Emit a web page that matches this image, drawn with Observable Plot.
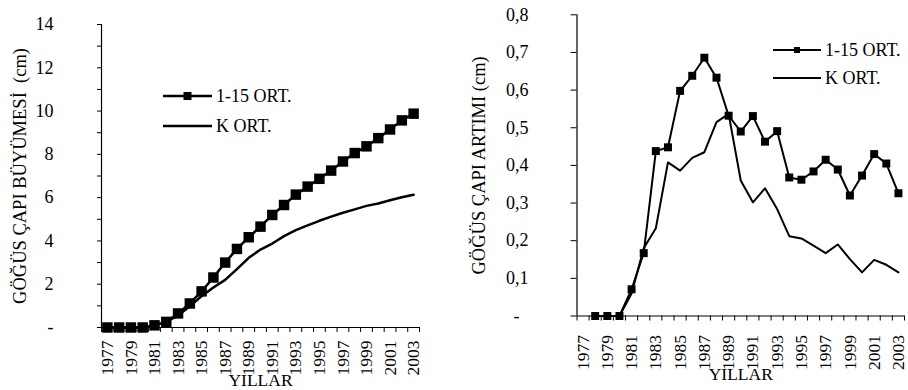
<!DOCTYPE html>
<html><head><meta charset="utf-8">
<script src="https://cdn.jsdelivr.net/npm/d3@7"></script>
<script src="https://cdn.jsdelivr.net/npm/@observablehq/plot@0.6"></script>
<style>
html,body{margin:0;padding:0;background:#fff;}
#wrap{position:relative;width:908px;height:390px;overflow:hidden;display:flex;}
#wrap svg{display:block;}
#wrap svg, #wrap svg text{font-family:"Liberation Serif","Times New Roman",serif !important;}
</style></head><body><div id="wrap"></div>
<script>
// ---- data ----
const years = [1977,1978,1979,1980,1981,1982,1983,1984,1985,1986,1987,1988,1989,1990,1991,1992,1993,1994,1995,1996,1997,1998,1999,2000,2001,2002,2003];
const yearTickLabels = [1977,1979,1981,1983,1985,1987,1989,1991,1993,1995,1997,1999,2001,2003];
const seriesNames = ["1-15 ORT.", "K ORT."];

// left panel: cumulative diameter growth (cm), 1977-2003
const growth1_15 = [0,0,0,0,0.1,0.26,0.65,1.11,1.67,2.31,3.0,3.63,4.17,4.66,5.2,5.66,6.14,6.51,6.87,7.25,7.67,8.06,8.37,8.75,9.15,9.57,9.88];
const growthK    = [0,0,0,0,0.08,0.27,0.55,0.98,1.45,1.85,2.2,2.7,3.22,3.6,3.88,4.22,4.5,4.72,4.93,5.12,5.3,5.46,5.62,5.73,5.88,6.02,6.13];
const leftYTicks = [0,2,4,6,8,10,12,14];
const leftYTickLabels = ["-","2","4","6","8","10","12","14"];
const leftYMinorTicks = [1,3,5,7,9,11,13];

// right panel: annual diameter increment (cm), 1978-2003
const incYears = [1978,1979,1980,1981,1982,1983,1984,1985,1986,1987,1988,1989,1990,1991,1992,1993,1994,1995,1996,1997,1998,1999,2000,2001,2002,2003];
const inc1_15 = [0,0,0,0.071,0.167,0.438,0.448,0.598,0.638,0.686,0.633,0.532,0.49,0.531,0.463,0.491,0.368,0.362,0.384,0.415,0.389,0.32,0.373,0.43,0.405,0.326];
const incK    = [0,0,0,0.06,0.18,0.233,0.408,0.386,0.42,0.435,0.515,0.537,0.36,0.302,0.339,0.284,0.212,0.206,0.187,0.167,0.19,0.151,0.116,0.149,0.136,0.116];
const rightYTicks = [0,0.1,0.2,0.3,0.4,0.5,0.6,0.7,0.8];
const rightYTickLabels = ["-\u2007","0,1","0,2","0,3","0,4","0,5","0,6","0,7","0,8"];

const xLabel = "YILLAR";
const leftTitle = "GÖĞÜS ÇAPI BÜYÜMESİ\u00a0 (cm)";
const rightTitle = "GÖĞÜS ÇAPI ARTIMI (cm)";

// ---- build ----
const font = "Liberation Serif";
const xDomain = [years[0] - 0.5, years[years.length - 1] + 0.5];
const boundaryTicks = years.map(y => y - 0.5).concat([years[years.length - 1] + 0.5]);

const left = years.map((y, i) => ({year: y, a: growth1_15[i], k: growthK[i]}));
const right = incYears.map((y, i) => ({year: y, a: inc1_15[i], k: incK[i]}));

function panel(o) {
  const fmt = d => o.tickLabels[o.ticks.indexOf(d)];
  const marks = [
    Plot.axisY({ticks: o.ticks, tickFormat: fmt, tickSize: o.yTickSize, tickPadding: o.yTickPadding, label: null, fontSize: 18, fontFamily: font}),
  ];
  if (o.minor) marks.push(Plot.axisY({ticks: o.minor, tickFormat: () => "", tickSize: o.yTickSize, label: null}));
  marks.push(
    Plot.axisX({ticks: boundaryTicks, tickFormat: () => "", tickSize: 5, label: null}),
    Plot.axisX({ticks: yearTickLabels, tickSize: 0, tickPadding: o.xTickPadding, tickRotate: -90, tickFormat: d => String(d), label: null, fontSize: 17.5, fontFamily: font}),
    Plot.ruleX([xDomain[0]], {strokeWidth: 1.2}),
    Plot.ruleY([0], {strokeWidth: 1.2}),
    Plot.line(o.data, {x: "year", y: "k", stroke: "black", strokeWidth: o.lw}),
    Plot.line(o.data, {x: "year", y: "a", stroke: "black", strokeWidth: o.lw}),
    Plot.dot(o.data, {x: "year", y: "a", symbol: "square", r: o.r, fill: "black", stroke: null}),
    Plot.text([o.title], {frameAnchor: "left", textAnchor: "middle", lineAnchor: "middle", dx: o.titleDx, rotate: -90, fontSize: 18.5, fontFamily: font}),
    Plot.text([xLabel], {frameAnchor: "bottom", textAnchor: "middle", lineAnchor: "top", dy: o.xLabelDy, fontSize: 17.5, fontFamily: font})
  );
  const svg = Plot.plot({
    width: o.width, height: 390,
    marginLeft: o.ml, marginRight: o.mr, marginTop: o.mt, marginBottom: o.mb,
    x: {domain: xDomain},
    y: {domain: o.yDomain},
    style: "font-family: 'Liberation Serif', serif; font-size: 18px; background: white; color: black; overflow: visible;",
    marks
  });
  // legend
  const g = d3.select(svg).append("g").attr("font-size", 18).attr("font-family", font).attr("text-anchor", "start");
  o.legend.forEach((L, i) => {
    g.append("line").attr("x1", L.x1).attr("x2", L.x2).attr("y1", L.y).attr("y2", L.y)
      .attr("stroke", "black").attr("stroke-width", o.lw);
    if (i === 0) {
      const c = (L.x1 + L.x2) / 2;
      g.append("rect").attr("x", c - o.legendMarker / 2).attr("y", L.y - o.legendMarker / 2)
        .attr("width", o.legendMarker).attr("height", o.legendMarker).attr("fill", "black");
    }
    g.append("text").attr("x", L.x2 + 4).attr("y", L.y).attr("dy", "0.35em")
      .style("text-anchor", "start").text(seriesNames[i]);
  });
  return svg;
}

const wrap = document.getElementById("wrap");
wrap.appendChild(panel({
  width: 454, ml: 101, mr: 35, mt: 24, mb: 63,
  data: left, yDomain: [0, 14], ticks: leftYTicks, tickLabels: leftYTickLabels, minor: leftYMinorTicks,
  yTickSize: 4, yTickPadding: 44, xTickPadding: 13, lw: 2.5, r: 5.9,
  title: leftTitle, titleDx: -81, xLabelDy: 46,
  legendMarker: 8,
  legend: [{x1: 163, x2: 212, y: 96}, {x1: 163, x2: 212, y: 126}]
}));
wrap.appendChild(panel({
  width: 454, ml: 122.5, mr: 4, mt: 14.3, mb: 74.5,
  data: right, yDomain: [0, 0.8], ticks: rightYTicks, tickLabels: rightYTickLabels, minor: null,
  yTickSize: 6, yTickPadding: 42.5, xTickPadding: 19, lw: 2, r: 4.5,
  title: rightTitle, titleDx: -97.5, xLabelDy: 51.5,
  legendMarker: 6,
  legend: [{x1: 773 - 454, x2: 821 - 454, y: 50}, {x1: 773 - 454, x2: 821 - 454, y: 78}]
}));
</script></body></html>
